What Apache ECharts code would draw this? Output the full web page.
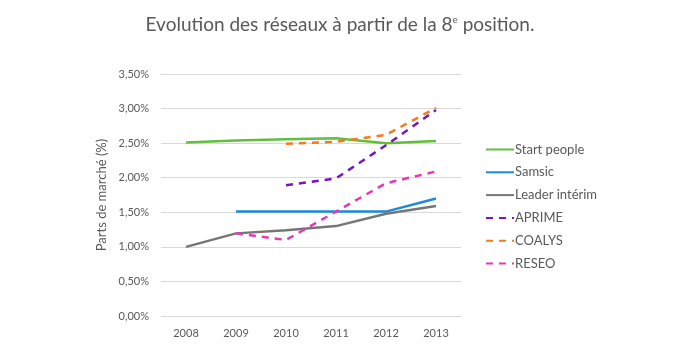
<!DOCTYPE html>
<html><head><meta charset="utf-8">
<script src="https://cdn.jsdelivr.net/npm/echarts@6/dist/echarts.min.js"></script>
<style>html,body{margin:0;padding:0;background:#fff}#c{width:680px;height:350px}</style>
</head><body><div id="c"></div>
<script>
const years = ['2008','2009','2010','2011','2012','2013'];
const startPeople = [2.51, 2.54, 2.555, 2.57, 2.50, 2.53];
const samsic = [null, 1.51, 1.51, 1.51, 1.51, 1.70];
const leaderInterim = [1.00, 1.195, 1.24, 1.30, 1.48, 1.59];
const aprime = [null, null, 1.89, 1.99, 2.47, 2.98];
const coalys = [null, null, 2.49, 2.52, 2.62, 3.01];
const reseo = [null, 1.195, 1.10, 1.51, 1.92, 2.09];

const font = 'Lato';
const txt = '#595959';
function line(name, data, color, dashed) {
  return {
    name, type: 'line', data, symbol: 'none', connectNulls: false,
    lineStyle: { color, width: 2.5, type: dashed ? [7, 6] : 'solid' },
    itemStyle: { color }
  };
}
const chart = echarts.init(document.getElementById('c'), null, { renderer: 'canvas' });
chart.setOption({
  animation: false,
  title: {
    text: '{a|Evolution des réseaux à partir de la 8}{s|e}{a| position.}',
    left: 'center', top: 10,
    textStyle: { fontWeight: 'normal', rich: {
      a: { fontFamily: font, fontSize: 19, color: txt, fontWeight: 'normal' },
      s: { fontFamily: font, fontSize: 10, color: txt, fontWeight: 'normal', verticalAlign: 'top', padding: [0, 0, 8, 0] }
    } }
  },
  grid: { left: 161, right: 219, top: 74, bottom: 34 },
  legend: {
    orient: 'vertical', left: 480, top: 138, itemGap: 9.8, itemWidth: 28, itemHeight: 14,
    itemStyle: { opacity: 0 },
    textStyle: { fontFamily: font, fontSize: 13, color: txt, padding: [0, 0, 0, -4] },
    data: ['Start people', 'Samsic', 'Leader intérim', 'APRIME', 'COALYS', 'RESEO']
  },
  xAxis: {
    type: 'category', data: years, boundaryGap: true,
    axisLine: { show: false }, axisTick: { show: false },
    axisLabel: { fontFamily: font, fontSize: 11, color: txt, margin: 12 }
  },
  yAxis: {
    type: 'value', min: 0, max: 3.5, interval: 0.5,
    name: 'Parts de marché (%)', nameLocation: 'middle', nameGap: 53, nameRotate: 90,
    nameTextStyle: { fontFamily: font, fontSize: 13, color: txt },
    axisLine: { show: false }, axisTick: { show: false },
    axisLabel: { fontFamily: font, fontSize: 11, color: txt, margin: 12,
      formatter: v => v.toFixed(2).replace('.', ',') + '%' },
    splitLine: { lineStyle: { color: '#d9d9d9', width: 1 } }
  },
  series: [
    line('Start people', startPeople, '#62bf3c', false),
    line('Samsic', samsic, '#1c8ad8', false),
    line('Leader intérim', leaderInterim, '#767676', false),
    line('APRIME', aprime, '#7514c4', true),
    line('COALYS', coalys, '#f47a22', true),
    line('RESEO', reseo, '#e438b6', true)
  ]
});
</script></body></html>
